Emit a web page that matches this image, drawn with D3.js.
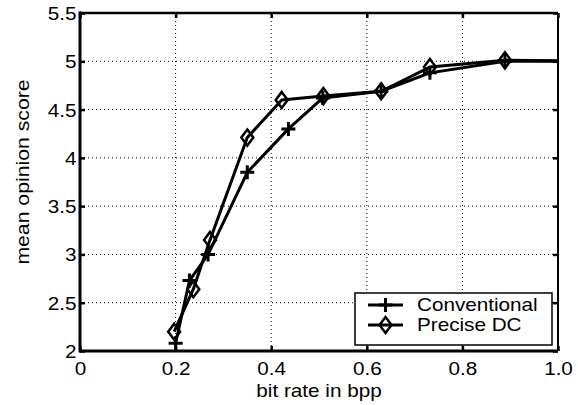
<!DOCTYPE html>
<html>
<head>
<meta charset="utf-8">
<script src="https://cdn.jsdelivr.net/npm/d3@7"></script>
<style>
  html, body { margin: 0; padding: 0; background: #fff; }
  svg { display: block; font-family: "Liberation Sans", Arial, Helvetica, sans-serif; }
</style>
</head>
<body>
<svg id="chart" width="578" height="405"></svg>
<script>
// ---- data ----
const xTicks = [0, 0.2, 0.4, 0.6, 0.8, 1.0];
const xTickLabels = ["0", "0.2", "0.4", "0.6", "0.8", "1.0"];
const yTicks = [2, 2.5, 3, 3.5, 4, 4.5, 5, 5.5];
const yTickLabels = ["2", "2.5", "3", "3.5", "4", "4.5", "5", "5.5"];

const convX = [0.200, 0.229, 0.268, 0.350, 0.436, 0.508, 0.630, 0.732, 0.889, 1.1];
const convY = [2.08, 2.73, 3.00, 3.85, 4.30, 4.62, 4.69, 4.88, 5.00, 5.00];
const preciseX = [0.197, 0.237, 0.272, 0.350, 0.422, 0.509, 0.630, 0.732, 0.889, 1.1];
const preciseY = [2.20, 2.64, 3.15, 4.21, 4.60, 4.64, 4.69, 4.94, 5.01, 5.00];

const seriesNames = ["Conventional", "Precise DC"];
const xLabel = "bit rate in bpp";
const yLabel = "mean opinion score";

// ---- layout ----
const FS = 18, SX = 1.15;
const svg = d3.select("#chart");
const L = 80, R = 558, T = 13, B = 351;
const x = d3.scaleLinear().domain([0, 1]).range([L, R]);
const y = d3.scaleLinear().domain([2, 5.5]).range([B, T]);

svg.append("defs").append("clipPath").attr("id", "plotclip")
  .append("rect").attr("x", L).attr("y", T).attr("width", R - L).attr("height", B - T);

// grid (dotted)
const grid = svg.append("g");
grid.selectAll("line.gx").data(xTicks.filter(d => d > 0 && d < 1)).enter().append("line")
  .attr("x1", d => x(d)).attr("x2", d => x(d)).attr("y1", T).attr("y2", B)
  .attr("stroke", "#000").attr("stroke-width", 1).attr("stroke-dasharray", "1,3");
grid.selectAll("line.gy").data(yTicks.filter(d => d > 2 && d < 5.5)).enter().append("line")
  .attr("x1", L).attr("x2", R).attr("y1", d => y(d)).attr("y2", d => y(d))
  .attr("stroke", "#000").attr("stroke-width", 1).attr("stroke-dasharray", "1,3");

// axes via d3 axis (ticks inward)
const xAxisB = d3.axisBottom(x).tickValues(xTicks).tickFormat((d, i) => xTickLabels[i]).tickSize(-5);
const xAxisT = d3.axisTop(x).tickValues(xTicks).tickFormat("").tickSize(-5);
const yAxisL = d3.axisLeft(y).tickValues(yTicks).tickFormat((d, i) => yTickLabels[i]).tickSize(-5);
const yAxisR = d3.axisRight(y).tickValues(yTicks).tickFormat("").tickSize(-5);

function styleAxis(g) {
  g.select(".domain").remove();
  g.selectAll(".tick line").attr("stroke", "#000").attr("stroke-width", 2.5);
  g.selectAll(".tick text").attr("fill", "#000").attr("font-size", FS)
   .attr("font-family", "'Liberation Sans', Arial, sans-serif");
}
const gxb = svg.append("g").attr("transform", `translate(0,${B})`).call(xAxisB); styleAxis(gxb);
gxb.selectAll(".tick text").attr("y", 24).attr("dy", null).attr("transform", `scale(${SX},1)`);
const gxt = svg.append("g").attr("transform", `translate(0,${T})`).call(xAxisT); styleAxis(gxt);
const gyl = svg.append("g").attr("transform", `translate(${L},0)`).call(yAxisL); styleAxis(gyl);
gyl.selectAll(".tick text").attr("x", -3).attr("dy", "0.36em").attr("transform", `scale(${SX},1)`);
const gyr = svg.append("g").attr("transform", `translate(${R},0)`).call(yAxisR); styleAxis(gyr);

// series
const line = d3.line().x(d => x(d[0])).y(d => y(d[1]));
const convPts = convX.map((v, i) => [v, convY[i]]);
const precPts = preciseX.map((v, i) => [v, preciseY[i]]);

const plot = svg.append("g").attr("clip-path", "url(#plotclip)");
plot.append("path").datum(convPts).attr("d", line)
  .attr("fill", "none").attr("stroke", "#000").attr("stroke-width", 3).attr("stroke-linejoin", "round");
plot.append("path").datum(precPts).attr("d", line)
  .attr("fill", "none").attr("stroke", "#000").attr("stroke-width", 3).attr("stroke-linejoin", "round");

function plusPath(cx, cy, s) {
  return `M${cx - s},${cy}H${cx + s}M${cx},${cy - s}V${cy + s}`;
}
function diamondPath(cx, cy, w, h) {
  return `M${cx},${cy - h}L${cx + w},${cy}L${cx},${cy + h}L${cx - w},${cy}Z`;
}
plot.selectAll("path.plus").data(convPts).enter().append("path")
  .attr("d", d => plusPath(x(d[0]), y(d[1]), 7))
  .attr("fill", "none").attr("stroke", "#000").attr("stroke-width", 3);
plot.selectAll("path.dia").data(precPts).enter().append("path")
  .attr("d", d => diamondPath(x(d[0]), y(d[1]), 6, 8))
  .attr("fill", "none").attr("stroke", "#000").attr("stroke-width", 2.5);

// frame
svg.append("line").attr("x1", L).attr("x2", L).attr("y1", T - 1.5).attr("y2", B + 1.5).attr("stroke", "#000").attr("stroke-width", 3);
svg.append("line").attr("x1", L).attr("x2", R).attr("y1", B).attr("y2", B).attr("stroke", "#000").attr("stroke-width", 3);
svg.append("line").attr("x1", L).attr("x2", R).attr("y1", T).attr("y2", T).attr("stroke", "#000").attr("stroke-width", 2.5);
svg.append("line").attr("x1", R).attr("x2", R).attr("y1", T).attr("y2", B).attr("stroke", "#000").attr("stroke-width", 2);

// axis labels
svg.append("text").attr("transform", `translate(${(L + R) / 2},397) scale(${SX},1)`).attr("text-anchor", "middle")
  .attr("font-size", FS).attr("fill", "#000").text(xLabel);
svg.append("text").attr("transform", `translate(29,172) rotate(-90) scale(1.18,1)`)
  .attr("text-anchor", "middle").attr("font-size", FS).attr("fill", "#000").text(yLabel);

// legend
const lg = svg.append("g");
lg.append("rect").attr("x", 355).attr("y", 293).attr("width", 197).attr("height", 52)
  .attr("fill", "#fff").attr("stroke", "#000").attr("stroke-width", 1.5);
const rows = [305, 325];
seriesNames.forEach((name, i) => {
  const ry = rows[i];
  lg.append("line").attr("x1", 368).attr("x2", 403).attr("y1", ry).attr("y2", ry)
    .attr("stroke", "#000").attr("stroke-width", 3);
  if (i === 0) {
    lg.append("path").attr("d", plusPath(385.5, ry, 7)).attr("fill", "none").attr("stroke", "#000").attr("stroke-width", 3);
  } else {
    lg.append("path").attr("d", diamondPath(385.5, ry, 6, 8)).attr("fill", "none").attr("stroke", "#000").attr("stroke-width", 2.5);
  }
  lg.append("text").attr("transform", `translate(417,${ry}) scale(${SX},1)`).attr("dy", "0.36em")
    .attr("font-size", FS).attr("fill", "#000").text(name);
});
</script>
</body>
</html>
